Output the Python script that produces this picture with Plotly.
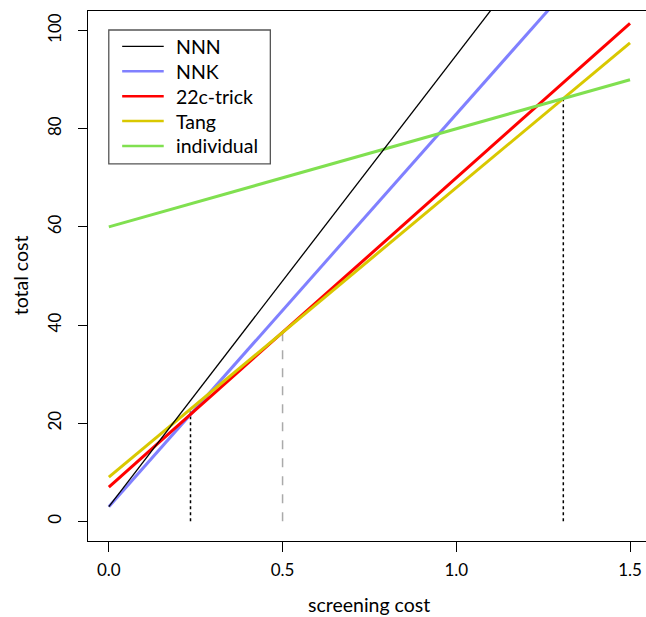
import plotly.graph_objects as go

# Data
x_ends = [0.0, 1.5]
series_names = ["NNN", "NNK", "22c-trick", "Tang", "individual"]
nnn = [3.0, 141.0]
nnk = [3.0, 123.0]
trick22c = [7.0, 101.5]
tang = [9.0, 97.5]
individual = [60.0, 90.0]
series_values = [nnn, nnk, trick22c, tang, individual]
series_colors = ["#000000", "#8080FF", "#FF0000", "#D9C800", "#80E050"]
series_widths = [1.3, 3, 3, 3, 3]

# crossing points marked with vertical lines
cross_x = [0.235, 0.5, 1.308]
cross_y = [22.4, 38.5, 86.2]
cross_colors = ["#000000", "#AAAAAA", "#000000"]
cross_dash = ["dot", "dash", "dot"]

x_ticks = [0.0, 0.5, 1.0, 1.5]
x_tick_labels = ["0.0", "0.5", "1.0", "1.5"]
y_ticks = [0, 20, 40, 60, 80, 100]
y_tick_labels = ["0", "20", "40", "60", "80", "100"]

FONT = "Lato, Open Sans, sans-serif"

W, H = 646, 617
ML, MR, MT, MB = 87.5, 0, 11, 75.5
PW = W - ML - MR
PH = H - MT - MB


def px(xf):
    return (xf - ML) / PW


def py(yf):
    return (H - MB - yf) / PH


fig = go.Figure()

for cx, cy, cc, cd in zip(cross_x, cross_y, cross_colors, cross_dash):
    fig.add_trace(go.Scatter(x=[cx, cx], y=[0, cy], mode="lines",
                             line=dict(color=cc, width=1.5, dash=cd),
                             showlegend=False, hoverinfo="skip"))

draw_order = [1, 2, 3, 4, 0]
for i in draw_order:
    fig.add_trace(go.Scatter(x=x_ends, y=series_values[i], mode="lines",
                             name=series_names[i], showlegend=False,
                             line=dict(color=series_colors[i], width=series_widths[i])))

# legend box drawn like R's legend()
shapes = [dict(type="rect", xref="paper", yref="paper",
               x0=px(108.3), x1=px(270), y0=py(30), y1=py(164),
               line=dict(color="#555555", width=1.3), fillcolor="white",
               layer="above")]
annotations = []
row_y0, row_dy = 46.5, 24.9
for k, (name, col, wd) in enumerate(zip(series_names, series_colors, series_widths)):
    yy = row_y0 + k * row_dy
    shapes.append(dict(type="line", xref="paper", yref="paper",
                       x0=px(121.7), x1=px(163.3), y0=py(yy), y1=py(yy),
                       line=dict(color=col, width=min(wd, 2.5)), layer="above"))
    annotations.append(dict(text=name, xref="paper", yref="paper",
                            x=px(174), y=py(yy), xanchor="left", yanchor="middle",
                            showarrow=False, font=dict(size=19.5)))

annotations += [
    dict(text="screening cost", xref="paper", yref="paper",
         x=px(369), y=py(605), xanchor="center", yanchor="middle",
         showarrow=False, font=dict(size=19.5)),
    dict(text="total cost", xref="paper", yref="paper",
         x=px(20), y=py(276), xanchor="center", yanchor="middle",
         textangle=-90, showarrow=False, font=dict(size=19.5)),
]

fig.update_layout(
    width=W, height=H,
    margin=dict(l=ML, r=MR, t=MT, b=MB),
    plot_bgcolor="white", paper_bgcolor="white",
    font=dict(family=FONT, size=18, color="#000000"),
    showlegend=False,
    shapes=shapes,
    annotations=annotations,
    xaxis=dict(range=[-0.06, 1.546], showgrid=False, zeroline=False,
               automargin=False,
               showline=True, linecolor="#000000", linewidth=1.3, mirror=True,
               ticks="outside", ticklen=10, tickcolor="#000000", tickwidth=1.3,
               tickvals=x_ticks, ticktext=x_tick_labels, ticklabelstandoff=3,
               tickfont=dict(size=17)),
    yaxis=dict(range=[-4, 104], showgrid=False, zeroline=False,
               automargin=False,
               showline=True, linecolor="#000000", linewidth=1.3, mirror=False,
               ticks="outside", ticklen=9, tickcolor="#000000", tickwidth=1.3,
               tickvals=y_ticks, ticktext=y_tick_labels, tickangle=-90,
               ticklabelstandoff=10, tickfont=dict(size=17)),
)

fig.write_html(
    "out.html",
    config={"displayModeBar": False},
    post_script=(
        "document.documentElement.style.margin='0';"
        "document.documentElement.style.overflow='hidden';"
        "document.body.style.margin='0';"
        "document.body.style.padding='0';"
        "document.body.style.overflow='hidden';"
    ),
)
